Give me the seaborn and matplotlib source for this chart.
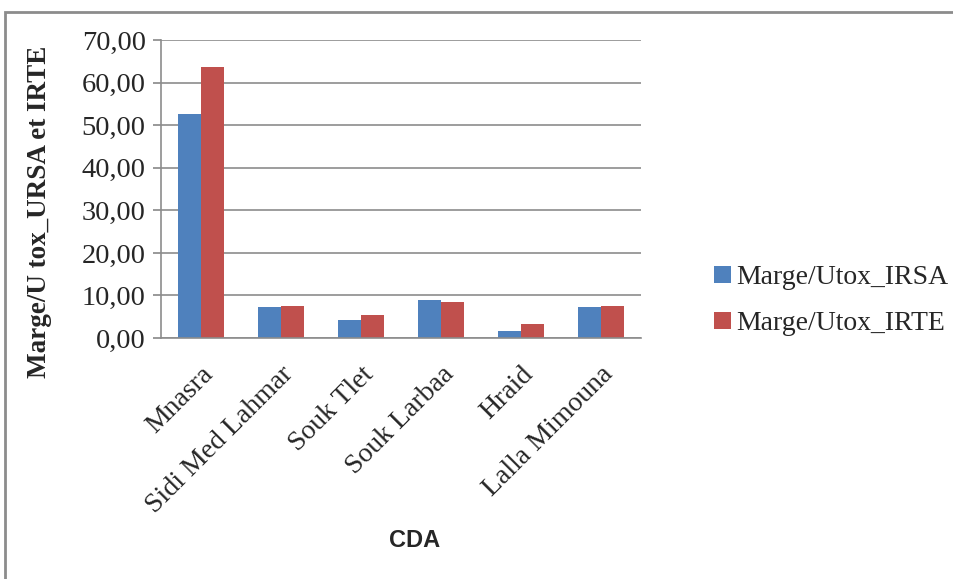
import matplotlib
matplotlib.use("Agg")
import matplotlib.pyplot as plt
import seaborn as sns
import pandas as pd
from matplotlib.ticker import FuncFormatter
from matplotlib.patches import Rectangle

categories = ["Mnasra", "Sidi Med Lahmar", "Souk Tlet", "Souk Larbaa", "Hraid", "Lalla Mimouna"]
irsa = [52.7, 7.3, 4.2, 8.9, 1.6, 7.3]
irte = [63.7, 7.5, 5.4, 8.5, 3.3, 7.5]
series_names = ["Marge/Utox_IRSA", "Marge/Utox_IRTE"]
yticks = [0, 10, 20, 30, 40, 50, 60, 70]

df = pd.DataFrame({
    "CDA": categories * 2,
    "value": irsa + irte,
    "serie": [series_names[0]] * len(categories) + [series_names[1]] * len(categories),
})

sns.set_theme(style="white")
plt.rcParams["font.family"] = ["Liberation Serif", "DejaVu Serif"]

fig = plt.figure(figsize=(9.54, 5.79), dpi=100)
ax = fig.add_axes([0.1688, 0.4162, 0.503, 0.5142])

sns.barplot(data=df, x="CDA", y="value", hue="serie", palette=["#4F81BD", "#C0504D"],
            width=0.57, saturation=1, ax=ax, legend=True, edgecolor="none")

ax.set_ylim(0, 70)
ax.set_yticks(yticks)
ax.yaxis.set_major_formatter(FuncFormatter(lambda v, p: f"{v:.2f}".replace(".", ",")))
ax.grid(axis="y", color="#8C8C8C", linewidth=1.2)
ax.set_axisbelow(True)
for s in ["top", "right"]:
    ax.spines[s].set_visible(False)
ax.spines["left"].set_color("#8C8C8C")
ax.spines["bottom"].set_color("#8C8C8C")
ax.spines["left"].set_linewidth(1.2)
ax.spines["bottom"].set_linewidth(1.2)
ax.tick_params(axis="y", left=True, length=6, color="#8C8C8C", labelsize=20.5, pad=5)
ax.tick_params(axis="x", bottom=False, labelsize=20, pad=11)
plt.setp(ax.get_xticklabels(), rotation=45, ha="right", rotation_mode="anchor")

ax.set_ylabel("Marge/U tox_URSA et IRTE", fontsize=19.5, fontweight="bold")
ax.yaxis.set_label_coords(-0.253, (338 - 212) / 297.7)
ax.yaxis.label.set_va("center")
ax.set_xlabel("CDA", fontsize=17, fontweight="bold",
              family=["Liberation Sans Narrow", "Liberation Sans", "DejaVu Sans"])
ax.xaxis.set_label_coords((415 - 161) / 480, (338 - 540) / 297.7)
ax.xaxis.label.set_va("center")

leg = ax.legend(loc="center left", bbox_to_anchor=(1.1, 0.125), frameon=False,
                fontsize=20, handlelength=0.6, handleheight=0.6, handletextpad=0.2,
                labelspacing=0.75)

# outer chart border
fig.patches.append(Rectangle((5 / 954, -0.1), 1.2, (579 - 12) / 579 + 0.1, transform=fig.transFigure,
                             fill=False, edgecolor="#8C8C8C", linewidth=2))

fig.savefig("out.png", dpi=100)
